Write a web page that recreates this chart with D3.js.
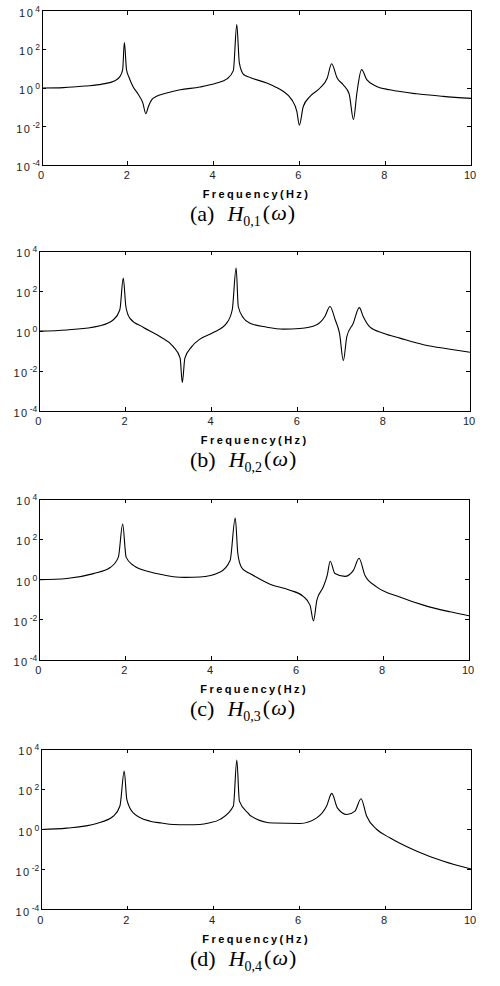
<!DOCTYPE html>
<html>
<head>
<meta charset="utf-8">
<script src="https://cdn.jsdelivr.net/npm/d3@7"></script>
<style>
  body { margin: 0; background: #fff; }
  .tick-label { font-family: Arial, "Liberation Sans", sans-serif; font-size: 11px; fill: #222; }
  .xlabel { font-family: Arial, "Liberation Sans", sans-serif; font-size: 11px; font-weight: bold; letter-spacing: 2.4px; fill: #000; }
  .caption { font-family: "Times New Roman", "Liberation Serif", serif; font-size: 22px; fill: #000; }
</style>
</head>
<body>
<script>
// frequency (Hz) and |H|
const freqA = [0,0.5,1.0,1.4,1.7,1.82,1.88,1.92,1.97,2.03,2.12,2.25,2.35,2.42,2.48,2.56,2.67,2.91,3.22,3.68,4.07,4.31,4.46,4.54,4.6,4.7,4.85,5.24,5.45,5.62,5.82,5.94,6.0,6.09,6.25,6.48,6.65,6.75,6.88,7.02,7.16,7.26,7.34,7.45,7.57,7.8,8.11,8.73,9.35,10];
const magA = [1.0,1.05,1.26,1.58,2.4,4.0,8.9,229,8.9,3.5,1.2,0.45,0.17,0.047,0.11,0.25,0.37,0.55,0.81,1.12,1.8,2.95,7.9,1900,20,5.0,3.5,1.8,1.1,0.68,0.25,0.062,0.012,0.11,0.37,1.0,3.3,18,3.3,1.48,0.49,0.023,0.55,8.9,2.7,1.2,0.81,0.5,0.37,0.29];

const freqB = [0,0.64,1.41,1.72,1.87,1.95,2.01,2.1,2.41,2.8,3.11,3.27,3.32,3.38,3.54,3.73,4.04,4.35,4.48,4.57,4.62,4.74,4.89,5.28,5.67,6.05,6.44,6.63,6.75,6.87,6.97,7.06,7.14,7.29,7.43,7.52,7.68,7.99,8.37,8.92,9.54,10];
const magB = [1.0,1.15,1.86,3.7,11.7,447,17,4.5,1.58,0.54,0.17,0.045,0.0027,0.045,0.17,0.4,0.85,2.5,11.7,1410,17,4.5,2.5,1.58,1.26,1.35,2.1,5.4,17,3.7,0.79,0.034,0.54,2.5,15,5.4,1.58,0.79,0.45,0.21,0.126,0.089];

const freqC = [0,0.64,1.26,1.65,1.84,1.94,2.02,2.19,2.58,2.9,3.12,3.4,3.74,4.21,4.44,4.56,4.62,4.7,4.83,4.9,5.37,5.83,6.14,6.3,6.38,6.46,6.61,6.7,6.77,6.88,7.11,7.31,7.44,7.58,7.85,8.39,8.94,9.56,10];
const magC = [1.0,1.15,2.0,4.0,13.2,590,13.2,5.1,2.4,1.7,1.4,1.3,1.35,2.4,8.9,1175,20,4.3,2.4,2.0,0.59,0.3,0.148,0.054,0.0089,0.095,0.44,1.62,8.3,2.0,1.45,2.9,11.7,1.62,0.44,0.138,0.054,0.025,0.0158];

const freqD = [0,0.59,1.29,1.68,1.83,1.93,1.99,2.14,2.53,2.8,3.07,3.4,3.69,3.9,4.16,4.47,4.55,4.61,4.82,4.86,5.4,6.02,6.41,6.64,6.76,6.89,7.11,7.3,7.44,7.57,7.81,8.12,8.74,9.36,10];
const magD = [1.0,1.17,2.0,4.7,14.8,830,32,6.8,2.6,2.1,1.78,1.72,1.78,2.1,3.2,14.8,2950,26,6.3,5.0,2.1,2.0,3.8,14.8,63,12,5.6,8.3,34,4.7,1.0,0.38,0.083,0.026,0.0107];

const xTicks = [0, 2, 4, 6, 8, 10];
const yExponents = [4, 2, 0, -2, -4];
const captionTags = ["(a)", "(b)", "(c)", "(d)"];
const captionSubs = ["0,1", "0,2", "0,3", "0,4"];
const xLabel = "Frequency(Hz)";

const series = [[freqA, magA], [freqB, magB], [freqC, magC], [freqD, magD]];

// frame boxes of the four axes: left, right, top, bottom
const frames = [
  [42, 471, 10.7, 165.3],
  [39.3, 470, 251, 411.3],
  [39.3, 469, 499.3, 660],
  [41.3, 471, 749.3, 909.7]
];

const svg = d3.select("body")
  .append("svg")
  .attr("width", 500)
  .attr("height", 986);

svg.append("rect").attr("width", 500).attr("height", 986).attr("fill", "#fff");

series.forEach(([fx, fy], i) => {
  const [left, right, top, bottom] = frames[i];
  const x = d3.scaleLinear().domain([0, 10]).range([left, right]);
  const y = d3.scaleLog().domain([1e-4, 1e4]).range([bottom, top]);
  const g = svg.append("g");
  const tickLen = 4;

  // ticks inside on all four sides
  const yVals = yExponents.map(e => Math.pow(10, e));
  g.selectAll(".xt")
    .data(xTicks.slice(1, -1))
    .enter()
    .append("path")
    .attr("stroke", "#000")
    .attr("shape-rendering", "crispEdges")
    .attr("d", d => `M${x(d)},${bottom}v${-tickLen}M${x(d)},${top}v${tickLen}`);
  g.selectAll(".yt")
    .data(yVals.slice(1, -1))
    .enter()
    .append("path")
    .attr("stroke", "#000")
    .attr("shape-rendering", "crispEdges")
    .attr("d", d => `M${left},${y(d)}h${tickLen}M${right},${y(d)}h${-tickLen}`);

  // curve
  const pts = fx.map((f, k) => [f, fy[k]]);
  g.append("path")
    .datum(pts)
    .attr("fill", "none")
    .attr("stroke", "#000")
    .attr("stroke-width", 1.1)
    .attr("stroke-linejoin", "round")
    .attr("d", d3.line().curve(d3.curveMonotoneX).x(d => x(d[0])).y(d => y(d[1])));

  // frame
  g.append("rect")
    .attr("x", left)
    .attr("y", top)
    .attr("width", right - left)
    .attr("height", bottom - top)
    .attr("fill", "none")
    .attr("stroke", "#000")
    .attr("shape-rendering", "crispEdges");

  // x tick labels
  g.selectAll(".xl")
    .data(xTicks)
    .enter()
    .append("text")
    .attr("class", "tick-label")
    .attr("x", d => x(d) - 1)
    .attr("y", bottom + 14)
    .attr("text-anchor", "middle")
    .text(d => d);

  // y tick labels 10^n
  const yl = g.selectAll(".yl")
    .data(yExponents)
    .enter()
    .append("text")
    .attr("class", "tick-label")
    .attr("x", left - 2)
    .attr("y", d => y(Math.pow(10, d)) + 6)
    .attr("text-anchor", "end");
  yl.append("tspan").attr("letter-spacing", "1.5px").text("10");
  yl.append("tspan")
    .attr("dy", -5)
    .attr("dx", 1)
    .attr("font-size", "8.5px")
    .text(d => d);

  // axis label
  g.append("text")
    .attr("class", "xlabel")
    .attr("x", (left + right) / 2)
    .attr("y", bottom + 33)
    .attr("text-anchor", "middle")
    .text(xLabel);

  // caption
  const cap = g.append("text")
    .attr("class", "caption")
    .attr("x", 190)
    .attr("y", bottom + 56);
  cap.append("tspan").text(captionTags[i]);
  cap.append("tspan").attr("dx", 13).attr("font-style", "italic").text("H");
  cap.append("tspan").attr("dy", 5).attr("font-size", "14px").text(captionSubs[i]);
  cap.append("tspan").attr("dy", -6).attr("dx", 2).text("(");
  cap.append("tspan").attr("dx", 1).attr("font-style", "italic").text("ω");
  cap.append("tspan").attr("dx", 1).text(")");
});
</script>
</body>
</html>
